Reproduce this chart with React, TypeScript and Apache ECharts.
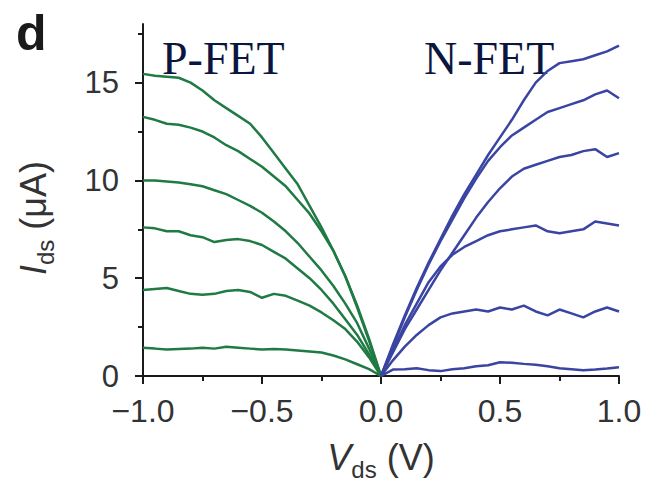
import React, { useEffect, useRef } from "react";
import * as echarts from "echarts";

// V_ds sample positions (V)
const VDS_P = [-1, -0.95, -0.9, -0.85, -0.8, -0.75, -0.7, -0.65, -0.6, -0.55, -0.5, -0.45, -0.4, -0.35, -0.3, -0.25, -0.2, -0.15, -0.1, -0.05, 0];
const VDS_N = [0, 0.05, 0.1, 0.15, 0.2, 0.25, 0.3, 0.35, 0.4, 0.45, 0.5, 0.55, 0.6, 0.65, 0.7, 0.75, 0.8, 0.85, 0.9, 0.95, 1];

// P-FET I_ds (µA), green
const P1 = [15.45, 15.35, 15.3, 15.25, 15.0, 14.6, 14.1, 13.7, 13.3, 12.9, 12.2, 11.4, 10.6, 9.8, 8.7, 7.6, 6.4, 5.1, 3.6, 1.9, 0];
const P2 = [13.25, 13.1, 12.9, 12.85, 12.7, 12.5, 12.2, 11.8, 11.5, 11.1, 10.7, 10.2, 9.7, 9.0, 8.3, 7.4, 6.4, 5.1, 3.5, 1.8, 0];
const P3 = [10.0, 10.0, 9.95, 9.9, 9.8, 9.7, 9.5, 9.3, 9.0, 8.7, 8.35, 7.9, 7.4, 6.8, 6.1, 5.4, 4.6, 3.7, 2.7, 1.4, 0];
const P4 = [7.6, 7.55, 7.4, 7.4, 7.2, 7.1, 6.85, 6.95, 7.0, 6.9, 6.7, 6.35, 6.0, 5.5, 5.0, 4.4, 3.7, 2.9, 2.1, 1.1, 0];
const P5 = [4.4, 4.45, 4.5, 4.35, 4.2, 4.15, 4.2, 4.35, 4.4, 4.3, 4.0, 4.2, 4.1, 3.85, 3.6, 3.25, 2.85, 2.4, 1.75, 0.95, 0];
const P6 = [1.44, 1.4, 1.35, 1.38, 1.4, 1.45, 1.4, 1.5, 1.45, 1.4, 1.35, 1.38, 1.35, 1.3, 1.25, 1.2, 1.05, 0.85, 0.6, 0.35, 0];

// N-FET I_ds (µA), blue
const N1 = [0, 1.6, 3.1, 4.5, 5.8, 7.0, 8.2, 9.3, 10.3, 11.3, 12.2, 13.1, 14.1, 15.0, 15.6, 16.0, 16.1, 16.2, 16.4, 16.6, 16.9];
const N2 = [0, 1.5, 3.0, 4.4, 5.7, 6.9, 8.0, 9.1, 10.1, 11.0, 11.7, 12.3, 12.7, 13.1, 13.5, 13.7, 13.9, 14.1, 14.4, 14.6, 14.2];
const N3 = [0, 1.2, 2.4, 3.4, 4.4, 5.4, 6.3, 7.2, 8.1, 8.9, 9.6, 10.2, 10.6, 10.8, 11.0, 11.2, 11.3, 11.5, 11.6, 11.2, 11.4];
const N4 = [0, 1.3, 2.6, 3.7, 4.8, 5.6, 6.2, 6.6, 6.9, 7.2, 7.4, 7.5, 7.6, 7.7, 7.4, 7.3, 7.4, 7.5, 7.9, 7.8, 7.7];
const N5 = [0, 0.8, 1.5, 2.1, 2.6, 3.0, 3.2, 3.3, 3.4, 3.3, 3.5, 3.4, 3.6, 3.3, 3.1, 3.4, 3.2, 3.0, 3.3, 3.5, 3.3];
const N6 = [0, 0.33, 0.35, 0.4, 0.3, 0.25, 0.35, 0.4, 0.5, 0.55, 0.7, 0.68, 0.62, 0.58, 0.5, 0.4, 0.35, 0.3, 0.33, 0.38, 0.45];

const P_CURVES = [P1, P2, P3, P4, P5, P6];
const N_CURVES = [N1, N2, N3, N4, N5, N6];

const Y_MAJOR = [0, 5, 10, 15];
const Y_MINOR = [2.5, 7.5, 12.5, 17.5];

const GREEN = "#1f7a44";
const BLUE = "#3a44a2";
const AXIS = "#1a1a1a";
const LABEL = "#333333";
const SANS = "'Liberation Sans', Arial, sans-serif";
const SERIF = "'Liberation Serif', 'Times New Roman', serif";

const nameRich = {
  i: { fontStyle: "italic", fontSize: 36, fontFamily: SANS, color: LABEL, verticalAlign: "bottom", padding: [0, 0, 6, 0] },
  s: { fontSize: 24, fontFamily: SANS, color: LABEL, verticalAlign: "bottom" },
  n: { fontSize: 36, fontFamily: SANS, color: LABEL, verticalAlign: "bottom", padding: [0, 0, 6, 0] },
};

export default function App() {
  const ref = useRef<HTMLDivElement>(null);
  useEffect(() => {
    if (!ref.current) return;
    const chart = echarts.init(ref.current, null, { renderer: "svg" });
    const series: any[] = [];
    P_CURVES.forEach((c, k) =>
      series.push({
        name: "P" + (k + 1),
        type: "line",
        data: VDS_P.map((x, i) => [x, c[i]]),
        showSymbol: false,
        lineStyle: { color: GREEN, width: 2.5 },
        itemStyle: { color: GREEN },
        xAxisIndex: 0,
        yAxisIndex: 0,
      })
    );
    N_CURVES.forEach((c, k) =>
      series.push({
        name: "N" + (k + 1),
        type: "line",
        data: VDS_N.map((x, i) => [x, c[i]]),
        showSymbol: false,
        lineStyle: { color: BLUE, width: 2.5 },
        itemStyle: { color: BLUE },
        xAxisIndex: 0,
        yAxisIndex: 0,
      })
    );
    chart.setOption({
      animation: false,
      backgroundColor: "#ffffff",
      grid: { left: 143, right: 28, top: 24, bottom: 116, containLabel: false, outerBoundsMode: "none" },
      xAxis: [
        {
          type: "value",
          min: -1,
          max: 1,
          interval: 0.5,
          axisLine: { show: true, onZero: false, lineStyle: { color: AXIS, width: 2 } },
          axisTick: { show: true, length: 8, lineStyle: { color: AXIS, width: 2 } },
          minorTick: { show: true, splitNumber: 2, length: 5, lineStyle: { color: AXIS, width: 2 } },
          splitLine: { show: false },
          minorSplitLine: { show: false },
          axisLabel: {
            fontSize: 32,
            fontFamily: SANS,
            color: LABEL,
            margin: 19,
            formatter: (v: number) => v.toFixed(1).replace("-", "\u2212"),
          },
          name: "{i|V}{s|ds}{n| (V)}",
          nameLocation: "middle",
          nameGap: 63,
          nameTextStyle: { rich: nameRich },
        },
      ],
      yAxis: [
        {
          type: "value",
          position: "left",
          min: 0,
          max: 18,
          axisLine: { show: true, onZero: false, lineStyle: { color: AXIS, width: 2 } },
          axisTick: { show: true, length: 8, customValues: Y_MAJOR, lineStyle: { color: AXIS, width: 2 } },
          splitLine: { show: false },
          axisLabel: {
            customValues: Y_MAJOR,
            fontSize: 31,
            fontFamily: SANS,
            color: LABEL,
            margin: 24,
          },
          name: "{i|I}{s|ds}{n| (\u03bcA)}",
          nameLocation: "middle",
          nameGap: 86,
          nameTextStyle: { rich: nameRich, padding: [0, 36, 0, 0] },
        },
        {
          type: "value",
          position: "left",
          offset: 0,
          min: 0,
          max: 18,
          axisLine: { show: false, onZero: false },
          axisTick: { show: true, length: 5, customValues: Y_MINOR, lineStyle: { color: AXIS, width: 2 } },
          splitLine: { show: false },
          axisLabel: { show: false },
        },
      ],
      graphic: [
        {
          type: "text",
          left: 16,
          top: 8,
          style: { text: "d", font: "bold 50px " + SANS, fill: "#1a1a1a" },
        },
        {
          type: "text",
          x: 162,
          y: 58,
          style: { text: "P-FET", font: "46px " + SERIF, fill: "#0b1640", verticalAlign: "middle", align: "left" },
        },
        {
          type: "text",
          x: 424,
          y: 58,
          style: { text: "N-FET", font: "46px " + SERIF, fill: "#0b1640", verticalAlign: "middle", align: "left" },
        },
      ],
      series,
    });
    return () => chart.dispose();
  }, []);
  return <div ref={ref} style={{ position: "fixed", left: 0, top: 0, width: 647, height: 492 }} />;
}
